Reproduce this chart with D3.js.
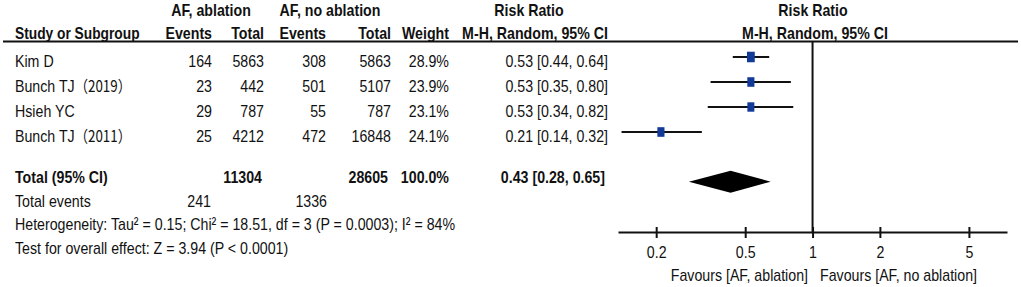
<!DOCTYPE html>
<html><head><meta charset="utf-8">
<script src="https://cdn.jsdelivr.net/npm/d3@7"></script>
<style>
html,body{margin:0;padding:0;background:#fff;}
svg{display:block;}
text{font-family:"Liberation Sans",Arial,sans-serif;font-size:17px;fill:#111;}
</style></head>
<body>
<script>
const studies = ["Kim D", "Bunch TJ", "Hsieh YC", "Bunch TJ"];
const studyYears = ["", "（2019）", "", "（2011）"];
const eventsAbl = [164, 23, 29, 25];
const totalAbl = [5863, 442, 787, 4212];
const eventsNo = [308, 501, 55, 472];
const totalNo = [5863, 5107, 787, 16848];
const weights = [28.9, 23.9, 23.1, 24.1];
const rr = [0.53, 0.53, 0.53, 0.21];
const rrLo = [0.44, 0.35, 0.34, 0.14];
const rrHi = [0.64, 0.80, 0.82, 0.32];
const pooled = {rr: 0.43, lo: 0.28, hi: 0.65, totalAbl: 11304, totalNo: 28605, weight: "100.0%"};
const totalEvents = [241, 1336];
const tickVals = [0.2, 0.5, 1, 2, 5];
const tickLabels = ["0.2", "0.5", "1", "2", "5"];
const hetText = "Heterogeneity: Tau² = 0.15; Chi² = 18.51, df = 3 (P = 0.0003); I² = 84%";
const testText = "Test for overall effect: Z = 3.94 (P < 0.0001)";

const W = 1021, H = 287;
const SX = 0.835;
const svg = d3.select("body").append("svg").attr("width", W).attr("height", H);
svg.append("rect").attr("width", W).attr("height", H).attr("fill", "#fff");

const x = d3.scaleLog().domain([0.135, 7.4]).range([618, 1007]);
const rowY = d3.scaleLinear().domain([0, 1]).range([67, 92]); // baseline per row
const axisY = 232;

const col = {name: 15, ev1: 212, tot1: 264, ev2: 326, tot2: 391, wt: 449, ci: 608};

function txt(xp, y, s, anchor, bold, sx) {
  return svg.append("text")
    .attr("transform", `translate(${xp},${y}) scale(${sx || SX},1)`)
    .attr("text-anchor", anchor || "start")
    .style("font-weight", bold ? "bold" : "normal").text(s);
}

// headers
txt(211, 16, "AF, ablation", "middle", true);
txt(330, 16, "AF, no ablation", "middle", true);
txt(529, 16, "Risk Ratio", "middle", true);
txt(813, 16, "Risk Ratio", "middle", true);
txt(col.name, 39, "Study or Subgroup", "start", true, 0.81);
txt(col.ev1, 39, "Events", "end", true);
txt(col.tot1, 39, "Total", "end", true);
txt(col.ev2, 39, "Events", "end", true);
txt(col.tot2, 39, "Total", "end", true);
txt(col.wt, 39, "Weight", "end", true);
txt(col.ci, 39, "M-H, Random, 95% CI", "end", true);
txt(815, 39, "M-H, Random, 95% CI", "middle", true);

svg.append("line").attr("x1", 3).attr("x2", 1018).attr("y1", 41.5).attr("y2", 41.5)
  .attr("stroke", "#111").attr("stroke-width", 2);

// study rows
studies.forEach((s, i) => {
  const y = rowY(i);
  const t = txt(col.name, y, s);
  if (studyYears[i]) t.append("tspan").style("font-family", "'Noto Sans CJK SC'").style("font-size", "16px").text(studyYears[i]);
  txt(col.ev1, y, eventsAbl[i], "end");
  txt(col.tot1, y, totalAbl[i], "end");
  txt(col.ev2, y, eventsNo[i], "end");
  txt(col.tot2, y, totalNo[i], "end");
  txt(col.wt, y, weights[i].toFixed(1) + "%", "end");
  txt(col.ci, y, rr[i].toFixed(2) + " [" + rrLo[i].toFixed(2) + ", " + rrHi[i].toFixed(2) + "]", "end");
});

// forest marks
const g = svg.append("g");
g.selectAll("line.ci").data(rr).join("line").attr("class", "ci")
  .attr("x1", (d, i) => x(rrLo[i])).attr("x2", (d, i) => x(rrHi[i]))
  .attr("y1", (d, i) => rowY(i) - 10).attr("y2", (d, i) => rowY(i) - 10)
  .attr("stroke", "#111").attr("stroke-width", 2);
g.selectAll("rect.sq").data(rr).join("rect").attr("class", "sq")
  .each(function (d, i) {
    const s = 1.45 * Math.sqrt(weights[i]);
    const h = s * 1.35;
    d3.select(this).attr("x", x(d) - s / 2).attr("y", rowY(i) - 10 - h / 2)
      .attr("width", s).attr("height", h);
  })
  .attr("fill", "#133a98");

// total row
const ty = 183;
txt(col.name, ty, "Total (95% CI)", "start", true);
txt(col.tot1 - 2, ty, pooled.totalAbl, "end", true);
txt(col.tot2 - 3, ty, pooled.totalNo, "end", true);
txt(col.wt, ty, pooled.weight, "end", true);
txt(col.ci - 3, ty, pooled.rr.toFixed(2) + " [" + pooled.lo.toFixed(2) + ", " + pooled.hi.toFixed(2) + "]", "end", true);
const dy = 181.7;
svg.append("path").attr("d", d3.line()([[x(pooled.lo), dy], [x(pooled.rr), dy - 11], [x(pooled.hi), dy], [x(pooled.rr), dy + 11]]) + "Z")
  .attr("fill", "#000");

txt(col.name, 207, "Total events");
txt(col.ev1 - 1, 207, totalEvents[0], "end");
txt(col.ev2 + 1, 207, totalEvents[1], "end");
txt(col.name, 230, hetText);
txt(col.name, 254, testText);

// null line
svg.append("line").attr("x1", x(1)).attr("x2", x(1)).attr("y1", 42).attr("y2", axisY)
  .attr("stroke", "#111").attr("stroke-width", 2);

// axis
const ax = svg.append("g").attr("transform", `translate(0,${axisY})`)
  .call(d3.axisBottom(x).tickValues(tickVals).tickFormat((d, i) => tickLabels[i]).tickSizeOuter(0));
ax.select(".domain").attr("stroke", "#111").attr("stroke-width", 2);
ax.selectAll(".tick line").attr("y1", -5).attr("y2", 6).attr("stroke", "#111").attr("stroke-width", 2);
ax.selectAll(".tick text").attr("y", 0).attr("dy", 0)
  .attr("transform", `translate(0,26) scale(${SX},1)`)
  .style("font-size", "17px")
  .style("font-family", "'Liberation Sans',Arial,sans-serif").attr("fill", "#111");

txt(808, 281, "Favours [AF, ablation]", "end");
txt(820, 281, "Favours [AF, no ablation]", "start");
</script>
</body></html>
